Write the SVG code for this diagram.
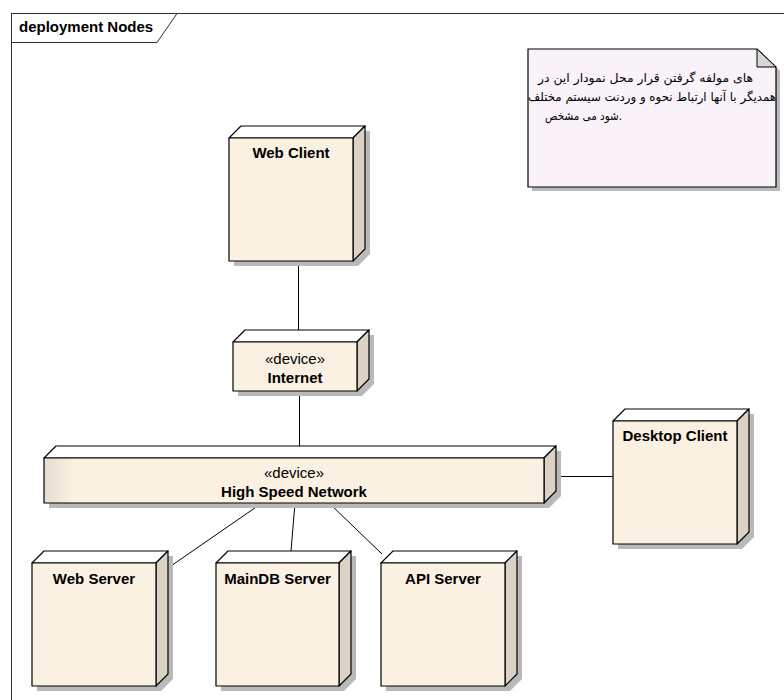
<svg xmlns="http://www.w3.org/2000/svg" width="784" height="700" viewBox="0 0 784 700">
  <style>
    .frame { fill: none; stroke: #303030; stroke-width: 1; }
    .front { fill: #faf1e3; stroke: #000; stroke-width: 1.2; stroke-linejoin: round; }
    .top { fill: #ffffff; stroke: #000; stroke-width: 1.2; stroke-linejoin: round; }
    .side { fill: #dbd2c5; stroke: #000; stroke-width: 1.2; stroke-linejoin: round; }
    .shadow { fill: #b9b9b9; }
    .conn { stroke: #000; stroke-width: 1; fill: none; }
    .name { font-family: "Liberation Sans", Arial, sans-serif; font-size: 15px; font-weight: bold; fill: #000; text-anchor: middle; }
    .stereo { font-family: "Liberation Sans", Arial, sans-serif; font-size: 15px; fill: #000; text-anchor: middle; }
    .title { font-family: "Liberation Sans", Arial, sans-serif; font-size: 15px; font-weight: bold; fill: #000; }
    .note { fill: #f9f2f9; stroke: #000; stroke-width: 1.2; }
    .fold { fill: #d6d6d6; stroke: #000; stroke-width: 1; }
    .notetext { font-family: "DejaVu Sans", sans-serif; font-size: 12px; fill: #000; }
  </style>
  <defs>
    <linearGradient id="barFill" x1="0" y1="0" x2="1" y2="0">
      <stop offset="0" stop-color="#e6ddd0"/>
      <stop offset="0.06" stop-color="#faf1e3"/>
      <stop offset="1" stop-color="#faf1e3"/>
    </linearGradient>
  </defs>

  <rect width="784" height="700" fill="#ffffff"/>

  <!-- diagram frame with its name tab -->
  <g id="frame">
    <rect class="frame" x="11.5" y="13.5" width="800" height="720"/>
    <polyline class="frame" points="11.5,42.5 157,42.5 177,13.5"/>
    <text class="title" x="19" y="32">deployment Nodes</text>
  </g>

  <!-- connectors -->
  <g id="connectors">
    <line class="conn" x1="298.5" y1="261" x2="298.5" y2="331"/>
    <line class="conn" x1="299.5" y1="391" x2="299.5" y2="446"/>
    <line class="conn" x1="556" y1="476.5" x2="613" y2="476.5"/>
    <line class="conn" x1="262" y1="503" x2="168" y2="568"/>
    <line class="conn" x1="295" y1="503" x2="291" y2="551"/>
    <line class="conn" x1="329" y1="503" x2="382" y2="554"/>
  </g>

  <!-- note -->
  <g id="note">
    <polygon class="shadow" points="532,53 761,53 780,71 780,191 532,191"/>
    <polygon class="note" points="528,49 757,49 776,67 776,187 528,187"/>
    <polygon class="fold" points="757,49 776,67 757,67"/>
    <text class="notetext" x="538" y="82" textLength="215" lengthAdjust="spacingAndGlyphs">های مولفه گرفتن قرار  محل نمودار این در</text>
    <text class="notetext" x="528" y="101" textLength="248" lengthAdjust="spacingAndGlyphs">همدیگر با آنها ارتباط نحوه و وردنت سیستم مختلف</text>
    <text class="notetext" x="545" y="120" textLength="77" lengthAdjust="spacingAndGlyphs">شود می مشخص.</text>
  </g>

  <!-- Web Client -->
  <g id="web-client">
    <polygon class="shadow" points="234,143 246,131 370,131 370,254 358,266 234,266"/>
    <polygon class="top" points="229,138 241,126 365,126 353,138"/>
    <polygon class="side" points="353,138 365,126 365,249 353,261"/>
    <rect class="front" x="229" y="138" width="124" height="123"/>
    <text class="name" x="291" y="158">Web Client</text>
  </g>

  <!-- Internet -->
  <g id="internet">
    <polygon class="shadow" points="238,347 250,335 374,335 374,384 362,396 238,396"/>
    <polygon class="top" points="233,342 245,330 369,330 357,342"/>
    <polygon class="side" points="357,342 369,330 369,379 357,391"/>
    <rect class="front" x="233" y="342" width="124" height="49"/>
    <text class="stereo" x="295" y="364">«device»</text>
    <text class="name" x="295" y="383">Internet</text>
  </g>

  <!-- High Speed Network -->
  <g id="high-speed-network">
    <polygon class="shadow" points="49,463 61,451 561,451 561,496 549,508 49,508"/>
    <polygon class="top" points="44,458 56,446 556,446 544,458"/>
    <polygon class="side" points="544,458 556,446 556,491 544,503"/>
    <rect class="front" x="44" y="458" width="500" height="45" style="fill:url(#barFill)"/>
    <text class="stereo" x="294" y="478">«device»</text>
    <text class="name" x="294" y="497">High Speed Network</text>
  </g>

  <!-- Desktop Client -->
  <g id="desktop-client">
    <polygon class="shadow" points="618,426 630,414 754,414 754,537 742,549 618,549"/>
    <polygon class="top" points="613,421 625,409 749,409 737,421"/>
    <polygon class="side" points="737,421 749,409 749,532 737,544"/>
    <rect class="front" x="613" y="421" width="124" height="123"/>
    <text class="name" x="675" y="441">Desktop Client</text>
  </g>

  <!-- Web Server -->
  <g id="web-server">
    <polygon class="shadow" points="37,568 49,556 173,556 173,679 161,691 37,691"/>
    <polygon class="top" points="32,563 44,551 168,551 156,563"/>
    <polygon class="side" points="156,563 168,551 168,674 156,686"/>
    <rect class="front" x="32" y="563" width="124" height="123"/>
    <text class="name" x="94" y="584">Web Server</text>
  </g>

  <!-- MainDB Server -->
  <g id="maindb-server">
    <polygon class="shadow" points="221,568 233,556 356,556 356,679 344,691 221,691"/>
    <polygon class="top" points="216,563 228,551 351,551 339,563"/>
    <polygon class="side" points="339,563 351,551 351,674 339,686"/>
    <rect class="front" x="216" y="563" width="123" height="123"/>
    <text class="name" x="277.5" y="584">MainDB Server</text>
  </g>

  <!-- API Server -->
  <g id="api-server">
    <polygon class="shadow" points="386,568 398,556 522,556 522,679 510,691 386,691"/>
    <polygon class="top" points="381,563 393,551 517,551 505,563"/>
    <polygon class="side" points="505,563 517,551 517,674 505,686"/>
    <rect class="front" x="381" y="563" width="124" height="123"/>
    <text class="name" x="443" y="584">API Server</text>
  </g>
</svg>
